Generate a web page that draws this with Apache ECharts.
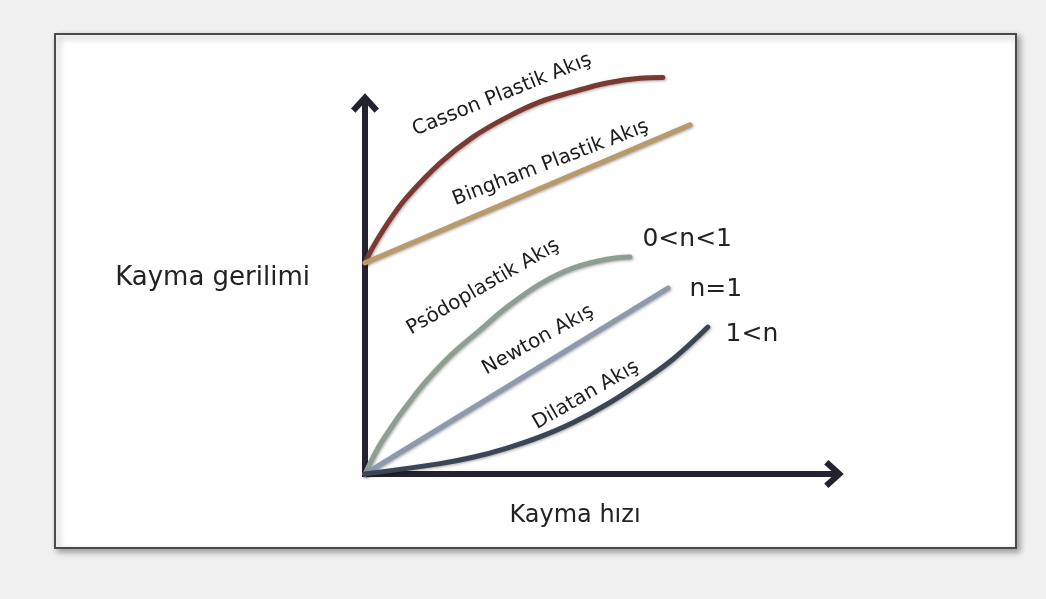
<!DOCTYPE html>
<html>
<head>
<meta charset="utf-8">
<script src="https://cdn.jsdelivr.net/npm/echarts@6/dist/echarts.min.js"></script>
<style>
html,body{margin:0;padding:0;background:#f0f0f0;}
#c{width:1046px;height:599px;}
</style>
</head>
<body>
<div id="c"></div>
<script>
// ---- data (x = Kayma hızı, y = Kayma gerilimi, arbitrary units) ----
const cassonData = [[0,56.9],[1.7,61.2],[5.3,68.5],[9.0,74.7],[16.0,83.8],[23.0,90.8],[30.3,96.2],[37.3,100.3],[44.3,103.0],[51.6,105.4],[58.6,106.7],[63.5,106.9]];
const binghamData = [[0,56.9],[69.3,94.1]];
const psodoData = [[0,0],[3.8,9.2],[11.1,22.1],[18.1,31.8],[24.5,38.8],[30.3,45.0],[37.3,51.2],[44.3,55.5],[51.6,57.9],[56.5,58.5]];
const newtonData = [[0,0],[64.6,50.1]];
const dilatanData = [[0,0],[16.0,2.8],[23.0,4.5],[30.3,7.0],[37.3,10.0],[44.3,13.8],[51.6,18.8],[58.6,24.5],[65.7,31.0],[73.1,39.6]];

const curveNames = ['Casson Plastik Akış','Bingham Plastik Akış','Psödoplastik Akış','Newton Akış','Dilatan Akış'];
const indexLabels = ['0<n<1','n=1','1<n'];
const xAxisName = 'Kayma hızı';
const yAxisName = 'Kayma gerilimi';

// annotation anchors (data coords) and angles
const curveLabelAnchors = [[29.2,102.2],[39.6,83.8],[25.2,50.4],[36.9,36.1],[47.1,21.3]];
const curveLabelAngles = [22,21,30,29,30];
const indexLabelAnchors = [[68.7,63.3],[74.8,49.6],[82.5,37.5]];

const FONT = 'DejaVu Sans, Verdana, sans-serif';
const chart = echarts.init(document.getElementById('c'), null, {renderer:'canvas'});

function lineSeries(name, data, color, smooth){
  return {
    name: name, type:'line', data: data, smooth: smooth, symbol:'none', clip:false,
    lineStyle:{color: color, width:5, cap:'round', shadowBlur:3, shadowColor:'rgba(0,0,0,0.35)', shadowOffsetX:1, shadowOffsetY:1},
    z: 3
  };
}

const arrowPath = 'path://M50,0 L100,55 L84,70 L50,32 L16,70 L0,55 Z';
const axisLineCommon = {
  show:true,
  symbol:['none', arrowPath],
  symbolSize:[28,24],
  lineStyle:{color:'#23232f', width:6, cap:'square'}
};

const annotationItems = curveNames.map((t,i)=>({
  value: curveLabelAnchors[i],
  label:{show:true, formatter:t, rotate:curveLabelAngles[i], position:'inside', fontSize:20, color:'#1c1c1c', textBorderWidth:0, fontFamily:FONT}
})).concat(indexLabels.map((t,i)=>({
  value: indexLabelAnchors[i],
  label:{show:true, formatter:t, rotate:0, position:'inside', fontSize:25, color:'#222222', textBorderWidth:0, fontFamily:FONT}
})));

const option = {
  backgroundColor:'#f0f0f0',
  animation:false,
  graphic:[{
    type:'rect', z:-10, silent:true,
    shape:{x:55, y:34, width:961, height:514},
    style:{fill:'#ffffff', stroke:'#4a4a4a', lineWidth:2, shadowBlur:6, shadowOffsetX:3, shadowOffsetY:3, shadowColor:'rgba(0,0,0,0.35)'}
  }],
  grid:{left:365, right:212, top:103, bottom:125, containLabel:false},
  xAxis:{
    type:'value', min:0, max:100,
    axisLine:axisLineCommon,
    axisTick:{show:false}, axisLabel:{show:false}, splitLine:{show:false},
    name:xAxisName, nameLocation:'middle', nameGap:30,
    nameTextStyle:{fontSize:24, color:'#222222', fontFamily:FONT, padding:[0,49,0,0]}
  },
  yAxis:{
    type:'value', min:0, max:100,
    axisLine:axisLineCommon,
    axisTick:{show:false}, axisLabel:{show:false}, splitLine:{show:false},
    name:yAxisName, nameLocation:'middle', nameRotate:0, nameGap:55,
    nameTextStyle:{fontSize:26, color:'#222222', fontFamily:FONT, verticalAlign:'bottom', lineHeight:20}
  },
  series:[
    lineSeries(curveNames[0], cassonData, '#7a3a31', 0.4),
    lineSeries(curveNames[1], binghamData, '#b99a6c', false),
    lineSeries(curveNames[2], psodoData, '#8d9e92', 0.4),
    lineSeries(curveNames[3], newtonData, '#8d99ad', false),
    lineSeries(curveNames[4], dilatanData, '#3b4555', 0.4),
    {
      type:'scatter', data: annotationItems, symbolSize:1, clip:false,
      itemStyle:{color:'transparent', opacity:1}, z:5
    }
  ]
};
chart.setOption(option);
</script>
</body>
</html>
